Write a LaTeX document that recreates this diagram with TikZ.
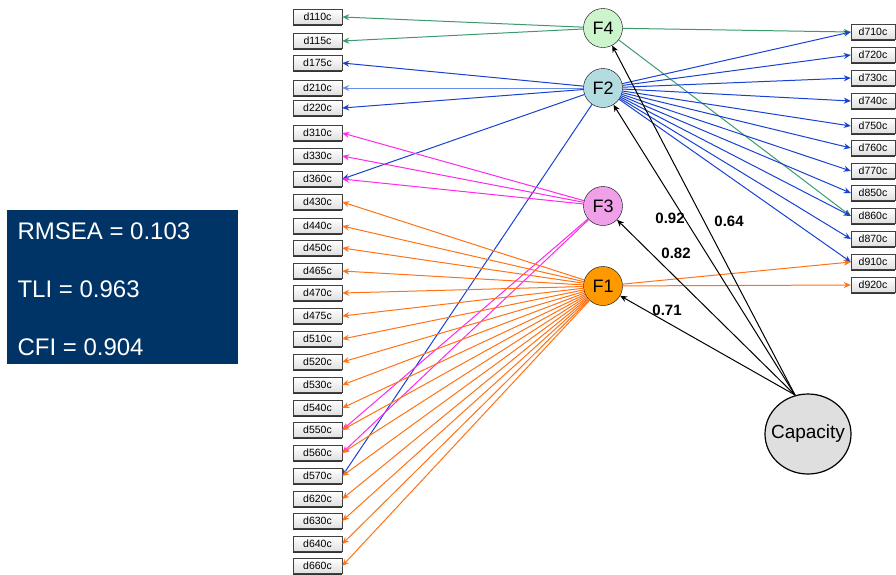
\documentclass[tikz,border=0pt]{standalone}
\usepackage{fontspec}
\setmainfont{Liberation Sans}
\usetikzlibrary{shapes.geometric,arrows.meta,shadows}
\definecolor{navy}{RGB}{0,51,102}
\definecolor{semgreen}{RGB}{60,155,110}
\definecolor{semblue}{RGB}{25,65,210}
\definecolor{paleblue}{RGB}{105,140,230}
\definecolor{semmagenta}{RGB}{255,40,235}
\definecolor{semorange}{RGB}{255,115,20}
\definecolor{fourfill}{RGB}{205,245,205}
\definecolor{twofill}{RGB}{178,220,224}
\definecolor{threefill}{RGB}{240,160,232}
\definecolor{onefill}{RGB}{255,153,0}
\begin{document}
\begin{tikzpicture}[
        x=1pt, y=-1pt,
        item/.style={draw=black!75, top color=white, bottom color=gray!25, minimum height=15pt,
            inner sep=0pt, font=\fontsize{10.5}{10.5}\selectfont,
            drop shadow={shadow xshift=0pt, shadow yshift=-1.3pt, fill=black, opacity=0.8}},
        leftitem/.style={item, minimum width=49pt},
        rightitem/.style={item, minimum width=44pt},
        factor/.style={circle, draw, minimum size=39pt, inner sep=0pt, font=\fontsize{18}{18}\selectfont},
        load/.style={-{Stealth[length=7pt,width=6pt]}, line width=1pt},
        num/.style={font=\fontsize{15}{15}\selectfont\bfseries}
    ]
        \useasboundingbox (0,0) rectangle (896,574);

        % fit indices
        \node[fill=navy, minimum width=231pt, minimum height=154pt, inner sep=0pt] (fit) at (122.5,287) {};
        \node[text=white, anchor=west, font=\fontsize{24}{24}\selectfont] (rmsea) at (14,231) {RMSEA = 0.103};
        \node[text=white, anchor=west, font=\fontsize{24}{24}\selectfont] (tli) at (14,289) {TLI = 0.963};
        \node[text=white, anchor=west, font=\fontsize{24}{24}\selectfont] (cfi) at (14,347) {CFI = 0.904};

        % indicators
        \foreach \nm/\yy in {110/17, 115/41, 175/63, 210/88, 220/108, 310/133, 330/156, 360/179,
                430/202, 440/226, 450/248, 465/271, 470/293, 475/316, 510/339, 520/362, 530/385,
                540/408, 550/430, 560/453, 570/476, 620/499, 630/521, 640/544, 660/566}
            \node[leftitem] (d\nm) at (317.5,\yy) {d\nm c};
        \foreach \nm/\yy in {710/32, 720/55, 730/78, 740/101, 750/126, 760/148, 770/171,
                850/193, 860/216, 870/239, 910/262, 920/285}
            \node[rightitem] (d\nm) at (873,\yy) {d\nm c};

        % factors
        \node[factor, fill=fourfill] (F4) at (603,28) {F4};
        \node[factor, fill=twofill] (F2) at (603,88) {F2};
        \node[factor, fill=threefill] (F3) at (603,206) {F3};
        \node[factor, fill=onefill] (F1) at (603,286) {F1};
        \node[ellipse, draw, line width=1.2pt, fill=gray!25, minimum width=86pt, minimum height=80pt,
            inner xsep=-8pt, inner ysep=0pt, font=\fontsize{19}{19}\selectfont] (cap) at (808,434) {Capacity};

        % loadings
        \foreach \nm in {110, 115}
            \draw[load, semgreen] (F4) -- (d\nm.east);
        \foreach \nm in {710, 860}
            \draw[load, semgreen] (F4) -- (d\nm.west);
        \draw[load, paleblue] (F2) -- (d210.east);
        \foreach \nm in {175, 220, 360, 570}
            \draw[load, semblue] (F2) -- (d\nm.east);
        \foreach \nm in {710, 720, 730, 740, 750, 760, 770, 850, 860, 870, 910}
            \draw[load, semblue] (F2) -- (d\nm.west);
        \foreach \nm in {310, 330, 360, 550, 560}
            \draw[load, semmagenta] (F3) -- (d\nm.east);
        \foreach \nm in {430, 440, 450, 465, 470, 475, 510, 520, 530, 540, 550, 560, 570, 620, 630, 640, 660}
            \draw[load, semorange] (F1) -- (d\nm.east);
        \foreach \nm in {910, 920}
            \draw[load, semorange] (F1) -- (d\nm.west);

        % second order
        \coordinate (capTop) at (795,395);
        \foreach \f in {F1, F2, F3, F4}
            \draw[load] (capTop) -- (\f);
        \node[num] (l92) at (670,218) {0.92};
        \node[num] (l64) at (729,221) {0.64};
        \node[num] (l82) at (676,253) {0.82};
        \node[num] (l71) at (667,310) {0.71};
    \end{tikzpicture}
\end{document}
